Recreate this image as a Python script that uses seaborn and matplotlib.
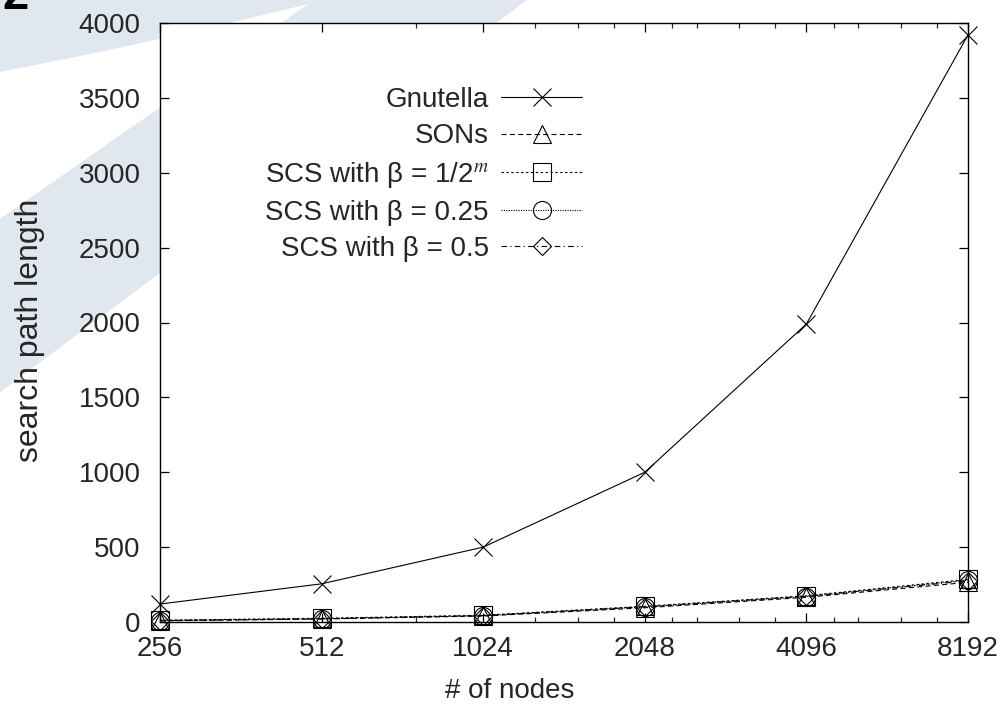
import numpy as np
import pandas as pd
import matplotlib
matplotlib.use("Agg")
import matplotlib.pyplot as plt
import seaborn as sns
from matplotlib.patches import Polygon
from matplotlib.ticker import FixedLocator, NullFormatter

# ==========================
# Dados
# ==========================
nodes = [256, 512, 1024, 2048, 4096, 8192]
gnutella = [120, 255, 500, 1000, 1990, 3920]
sons = [8, 20, 40, 95, 165, 265]
scs_m = [12, 25, 45, 105, 175, 285]
scs_025 = [10, 22, 42, 100, 170, 280]
scs_05 = [9, 21, 43, 102, 172, 275]

series_names = ["Gnutella", "SONs", "SCS with β = 1/2$^{m}$",
                "SCS with β = 0.25", "SCS with β = 0.5"]
series_values = [gnutella, sons, scs_m, scs_025, scs_05]
x_tick_labels = ["256", "512", "1024", "2048", "4096", "8192"]
x_minor = [768, 1280, 1536, 1792, 2304, 2560, 3072, 3584,
           4608, 5120, 6144, 7168]

rows = []
for name, vals in zip(series_names, series_values):
    for n, v in zip(nodes, vals):
        rows.append({"nodes": n, "length": v, "series": name})
df = pd.DataFrame(rows)

# ==========================
# Estilo
# ==========================
sns.set_style("ticks")
plt.rcParams["font.family"] = ["Liberation Sans", "DejaVu Sans"]
plt.rcParams["mathtext.fontset"] = "stix"

W, H = 1007, 706
fig = plt.figure(figsize=(W / 100, H / 100), dpi=100)

# marca d'agua azul clara no canto superior esquerdo
light = "#e1e7ee"
def px(pts):
    return [(x / W, 1 - y / H) for x, y in pts]

fig.add_artist(Polygon(px([(0, 0), (325, 0), (300, 6), (200, 30), (100, 52), (0, 72)]),
                       closed=True, transform=fig.transFigure, facecolor=light,
                       edgecolor="none", zorder=0))
fig.add_artist(Polygon(px([(314, 0), (527, 0), (0, 392), (0, 219)]),
                       closed=True, transform=fig.transFigure, facecolor=light,
                       edgecolor="none", zorder=0))
fig.text(0.002, 1 - 9 / H, "2", fontsize=34, fontweight="bold", color="black",
         va="baseline", ha="left", zorder=1)

ax = fig.add_axes([160 / W, 1 - 622 / H, 808 / W, 599 / H])
ax.set_facecolor("white")

markers = dict(zip(series_names, ["x", "^", "s", "o", "D"]))
dashes = dict(zip(series_names, ["", (4.5, 3), (2.2, 2.2), (1, 1.2), (5, 3, 1, 3)]))
palette = dict(zip(series_names, ["black"] * 5))

line_kws = dict(linewidth=0.8, markersize=13, markerfacecolor="none",
                markeredgecolor="black", markeredgewidth=0.8, ax=ax)

# Gnutella (marcador 'x' nao pode ser misturado com os outros)
g_name = series_names[:1]
sns.lineplot(data=df[df["series"].isin(g_name)], x="nodes", y="length",
             hue="series", style="series", hue_order=g_name, style_order=g_name,
             markers={k: markers[k] for k in g_name},
             dashes={k: dashes[k] for k in g_name},
             palette={k: palette[k] for k in g_name}, **line_kws)

o_names = series_names[1:]
sns.lineplot(data=df[df["series"].isin(o_names)], x="nodes", y="length",
             hue="series", style="series", hue_order=o_names, style_order=o_names,
             markers={k: markers[k] for k in o_names},
             dashes={k: dashes[k] for k in o_names},
             palette={k: palette[k] for k in o_names}, **line_kws)

# tamanho do losango e marcadores fora dos eixos
for line in ax.lines:
    line.set_clip_on(False)
    if line.get_marker() == "D":
        line.set_markersize(9.2)

handles, labels = ax.get_legend_handles_labels()
for h in handles:
    if h.get_marker() == "D":
        h.set_markersize(9.2)
ax.legend(handles, labels, markerfirst=False, frameon=False, fontsize=20,
          loc="upper right", bbox_to_anchor=(582 / W, 1 - 87 / H),
          bbox_transform=fig.transFigure, borderpad=0, borderaxespad=0,
          handlelength=2.9, handletextpad=0.45, labelspacing=0.37,
          handleheight=0.7, numpoints=1)

ax.set_xscale("log", base=2)
ax.set_xlim(256, 8192)
ax.set_ylim(0, 4000)
ax.set_xticks(nodes)
ax.set_xticklabels(x_tick_labels)
ax.xaxis.set_minor_locator(FixedLocator(x_minor))
ax.xaxis.set_minor_formatter(NullFormatter())
ax.set_yticks(np.arange(0, 4001, 500))
ax.yaxis.set_minor_locator(FixedLocator([]))

ax.tick_params(axis="both", which="major", direction="in", length=6.5, width=0.9,
               top=True, right=True, labelsize=20, color="black")
ax.tick_params(axis="y", which="major", pad=14)
ax.tick_params(axis="x", which="major", pad=10)
ax.tick_params(axis="x", which="minor", direction="in", length=3.6, width=0.9,
               top=True, bottom=True)
for s in ax.spines.values():
    s.set_visible(True)
    s.set_linewidth(1.0)
    s.set_color("black")

ax.set_xlabel("# of nodes", fontsize=20)
ax.set_ylabel("search path length", fontsize=23)
ax.xaxis.set_label_coords((510 - 160) / 808, -(678 - 622) / 599)
ax.yaxis.set_label_coords(-(160 - 45) / 808, (622 - 330) / 599)

fig.savefig("out.png", dpi=100)
plt.close(fig)
